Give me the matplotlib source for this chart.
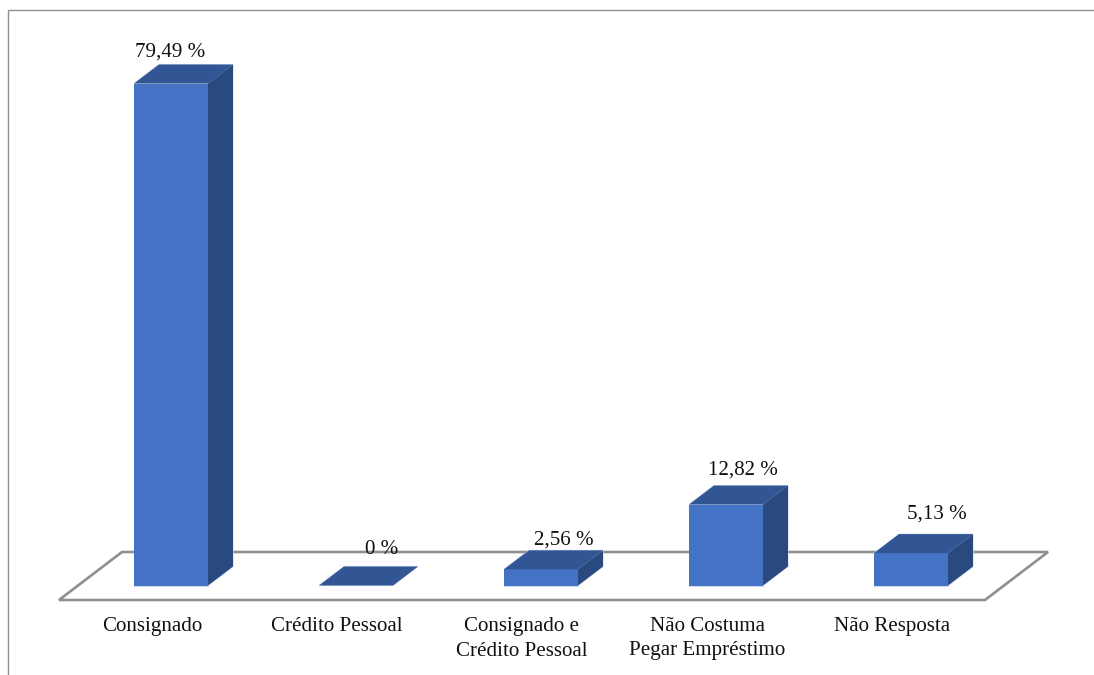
import matplotlib
matplotlib.use('Agg')
import matplotlib.pyplot as plt
from matplotlib.patches import Polygon

categories = ['Consignado', 'Crédito Pessoal', 'Consignado e\nCrédito Pessoal',
              'Não Costuma\nPegar Empréstimo', 'Não Resposta']
values = [79.49, 0, 2.56, 12.82, 5.13]
value_labels = ['79,49 %', '0 %', '2,56 %', '12,82 %', '5,13 %']

# value label offsets from the back edge of each bar top, in pixels
label_dx = [-1, 26, 23, 17, 26]
label_dy = [7.5, 12.5, 5.5, 10.5, 16]

W, H = 1094, 675
STEP = 185        # px between categories
PX_PER_UNIT = 6.315
X0, Y0 = 171, 585.5   # pixel position of first bar centre / baseline
PT = 0.72         # pixels to points at 100 dpi

plt.rcParams['font.family'] = ['Liberation Serif', 'DejaVu Serif']

fig = plt.figure(figsize=(W / 100, H / 100), dpi=100)
ax = fig.add_axes([0, 0, 1, 1])
ax.set_xlim(-X0 / STEP, (W - X0) / STEP)
ax.set_ylim((Y0 - H) / PX_PER_UNIT, Y0 / PX_PER_UNIT)
ax.axis('off')

half = 37 / STEP
dx = 25 / STEP
dy = 19 / PX_PER_UNIT

front_c = '#4472c4'
top_c = '#325694'
side_c = '#2a4a7f'
halo_c = '#cfdcf1'
line_c = '#8f8f8f'
text_c = '#111111'

# chart border, only top and left
fig.add_artist(plt.Line2D([8 / W, 8 / W, 1], [0, 1 - 10 / H, 1 - 10 / H],
                          color=line_c, lw=1.0))

# floor of the 3d plot
fl, fr = -112 / STEP, 814 / STEP
floor_y = -14.5 / PX_PER_UNIT
floor = [(fl, floor_y), (fr, floor_y), (fr + 63 / STEP, floor_y + 48 / PX_PER_UNIT),
         (fl + 63 / STEP, floor_y + 48 / PX_PER_UNIT)]
ax.add_patch(Polygon(floor, closed=True, fill=False, edgecolor=line_c, lw=1.9, zorder=1))


def face(pts, color):
    # thin pale outline sits behind the faces so it only shows outside the bar
    ax.add_patch(Polygon(pts, facecolor=color, edgecolor=halo_c, lw=0.8, zorder=2))
    ax.add_patch(Polygon(pts, facecolor=color, edgecolor='none', zorder=3))


for i, (v, txt) in enumerate(zip(values, value_labels)):
    l, r = i - half, i + half
    if v > 0:
        face([(l, 0), (r, 0), (r, v), (l, v)], front_c)
        face([(r, 0), (r + dx, dy), (r + dx, v + dy), (r, v)], side_c)
    face([(l, v), (r, v), (r + dx, v + dy), (l + dx, v + dy)], top_c)
    ax.annotate(txt, (i, v + dy), xytext=(label_dx[i] * PT, label_dy[i] * PT),
                textcoords='offset points', ha='center', va='baseline',
                fontsize=15.1, color=text_c, zorder=4)
    for j, line in enumerate(categories[i].split('\n')):
        ax.annotate(line, (i, 0), xytext=(-19 * PT, (-45.5 - 24.5 * j) * PT),
                    textcoords='offset points', ha='center', va='baseline',
                    fontsize=15.1, color=text_c, zorder=4)

plt.savefig('out.png', dpi=100)
